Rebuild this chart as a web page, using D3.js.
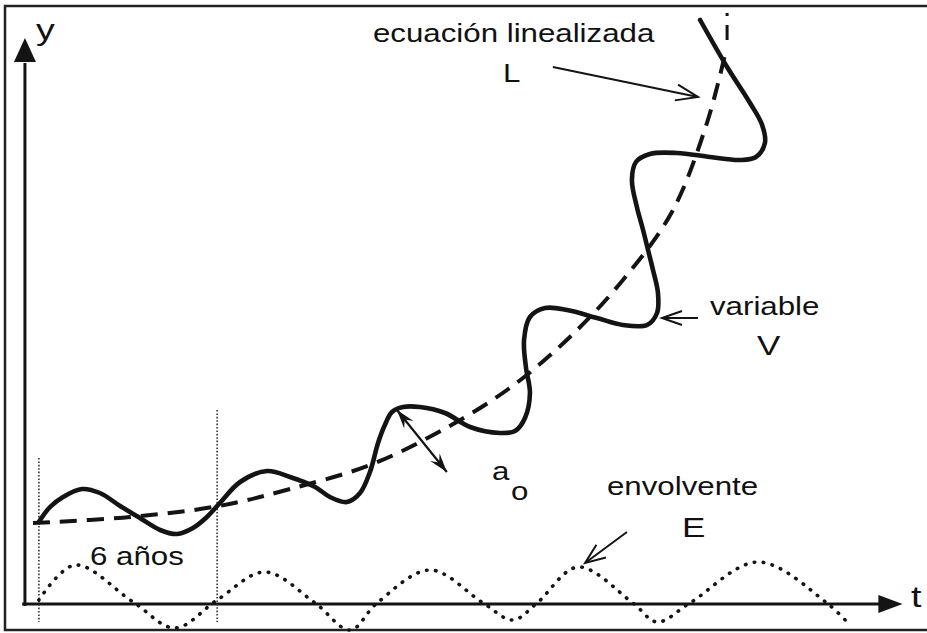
<!DOCTYPE html>
<html>
<head>
<meta charset="utf-8">
<script src="https://cdn.jsdelivr.net/npm/d3@7"></script>
<style>
  html, body { margin: 0; padding: 0; background: #fff; }
  svg { display: block; }
  text { font-family: "Liberation Sans", Arial, sans-serif; fill: #111; }
</style>
</head>
<body>
<svg id="chart" width="927" height="633"></svg>
<script>
// ---------------- DATA (t in years, y in arbitrary units) ----------------
// linearised equation L (dashed)
const lT = [0, 3.13, 6.0, 8.29, 10.87, 13.03, 15.29, 17.32, 19.03, 20.61, 21.74, 22.32];
const lY = [8.0, 8.6, 9.7, 11.4, 13.8, 17.0, 21.3, 26.6, 32.3, 39.1, 48.0, 54.8];

// variable V (solid, oscillating around L)
const vT = [0.19, 0.55, 0.97, 1.58, 2.16, 2.81, 3.45, 4.10, 4.65, 5.16, 5.61, 6.03, 6.68, 7.55, 8.29, 9.10,
            9.58, 10.13, 10.55, 10.87, 11.13, 11.35, 11.58, 11.94, 12.48, 13.29, 14.10, 15.06, 15.55, 15.87,
            16.03, 15.90, 15.84, 16.03, 16.52, 17.23, 18.19, 19.03, 19.81, 20.13, 20.16, 20.00, 19.84, 19.68,
            19.48, 19.32, 19.45, 19.90, 20.77, 21.84, 22.81, 23.32, 23.61, 23.52, 23.13, 22.39, 21.52];
const vY = [8.1, 9.6, 10.6, 11.4, 11.0, 9.7, 8.5, 7.3, 6.9, 7.5, 8.6, 10.0, 12.1, 13.2, 12.6, 11.6,
            10.6, 10.1, 11.0, 13.1, 16.0, 17.8, 19.1, 19.6, 19.6, 19.0, 17.6, 17.0, 17.2, 18.5,
            21.0, 23.6, 26.3, 28.6, 29.5, 29.3, 28.5, 27.8, 27.8, 29.0, 31.0, 33.3, 35.3, 37.3,
            39.6, 42.3, 44.1, 44.9, 45.0, 44.6, 44.3, 44.6, 46.0, 47.8, 50.0, 53.6, 58.3];

// envelope E (dotted, around the t axis)
const eT = [0.19, 1.35, 3.23, 4.58, 5.94, 7.48, 9.10, 10.23, 11.10, 12.81, 14.52, 15.48, 16.26, 17.58,
            19.35, 20.13, 21.19, 23.39, 25.61, 26.29];
const eY = [0.3, 3.8, 0.1, -2.5, 0.3, 3.1, 0.0, -2.7, 0.0, 3.3, 0.0, -1.7, 0.0, 3.6,
            0.0, -1.9, 0.0, 4.1, 0.0, -2.0];

// 6-year period markers and end of L
const periodMarks = [0.19, 5.94];
const lEndMark = 22.39;

// ---------------- LAYOUT ----------------
const svg = d3.select("#chart");
const x = d3.scaleLinear().domain([0, 30]).range([33, 963]);
const y = d3.scaleLinear().domain([0, 60]).range([603, 3]);
const ink = "#141414";

// frame
svg.append("rect").attr("x", 5).attr("y", 6).attr("width", 940).attr("height", 624)
  .attr("fill", "none").attr("stroke", "#222").attr("stroke-width", 2.5);

// axes
const x0 = x(-0.35), y0 = y(0);
const yAxisX = x(-0.26);
svg.append("line").attr("x1", x0).attr("x2", x(27.4)).attr("y1", y0 + 1).attr("y2", y0 + 1)
  .attr("stroke", ink).attr("stroke-width", 3);
svg.append("path")
  .attr("d", `M${x(27.4) - 4},${y0 + 1 - 9} L${x(28.05)},${y0 + 1} L${x(27.4) - 4},${y0 + 1 + 9} Z`)
  .attr("fill", ink);
svg.append("line").attr("x1", yAxisX).attr("x2", yAxisX).attr("y1", y0 + 3).attr("y2", y(54))
  .attr("stroke", ink).attr("stroke-width", 3);
svg.append("path")
  .attr("d", `M${yAxisX - 11},${y(54.1)} L${yAxisX},${y(56.5)} L${yAxisX + 11},${y(54.1)} Z`)
  .attr("fill", ink);

// vertical dotted period markers
periodMarks.forEach((t, i) => {
  svg.append("line").attr("x1", x(t)).attr("x2", x(t))
    .attr("y1", y(i === 0 ? 14.5 : 19.3)).attr("y2", y(-1.9))
    .attr("stroke", "#333").attr("stroke-width", 1.6).attr("stroke-dasharray", "1.6,1.8");
});
svg.append("line").attr("x1", x(lEndMark)).attr("x2", x(lEndMark)).attr("y1", y(59.0)).attr("y2", y(55.5))
  .attr("stroke", ink).attr("stroke-width", 3).attr("stroke-dasharray", "3,9,12,0");

// curves
const lData = lT.map((t, i) => [t, lY[i]]);
const vData = vT.map((t, i) => [t, vY[i]]);
const eData = eT.map((t, i) => [t, eY[i]]);

const lineGen = d3.line().x(d => x(d[0])).y(d => y(d[1]));

svg.append("path").datum(eData)
  .attr("d", lineGen.curve(d3.curveCatmullRom.alpha(0.5)))
  .attr("fill", "none").attr("stroke", ink).attr("stroke-width", 3.6)
  .attr("stroke-linecap", "round").attr("stroke-dasharray", "0.5,8.6");

svg.append("path").datum(lData)
  .attr("d", lineGen.curve(d3.curveCatmullRom.alpha(0.5)))
  .attr("fill", "none").attr("stroke", ink).attr("stroke-width", 4)
  .attr("stroke-dasharray", "17,10");

svg.append("path").datum(vData)
  .attr("d", lineGen.curve(d3.curveCatmullRom.alpha(0.5)))
  .attr("fill", "none").attr("stroke", ink).attr("stroke-width", 4.6)
  .attr("stroke-linejoin", "round").attr("stroke-linecap", "round");

// ---------------- ANNOTATIONS ----------------
function openArrow(from, to, len, half) {
  const x1 = x(from[0]), y1 = y(from[1]), x2 = x(to[0]), y2 = y(to[1]);
  const a = Math.atan2(y2 - y1, x2 - x1);
  svg.append("line").attr("x1", x1).attr("y1", y1).attr("x2", x2).attr("y2", y2)
    .attr("stroke", ink).attr("stroke-width", 2);
  const bx = x2 - len * Math.cos(a), by = y2 - len * Math.sin(a);
  const px = -Math.sin(a) * half, py = Math.cos(a) * half;
  svg.append("path")
    .attr("d", `M${bx + px},${by + py} L${x2},${y2} L${bx - px},${by - py}`)
    .attr("fill", "none").attr("stroke", ink).attr("stroke-width", 2);
}
function filledHead(from, to, len, half) {
  const x1 = x(from[0]), y1 = y(from[1]), x2 = x(to[0]), y2 = y(to[1]);
  const a = Math.atan2(y2 - y1, x2 - x1);
  const bx = x2 - len * Math.cos(a), by = y2 - len * Math.sin(a);
  const px = -Math.sin(a) * half, py = Math.cos(a) * half;
  svg.append("path")
    .attr("d", `M${bx + px},${by + py} L${x2},${y2} L${bx - px},${by - py} L${bx + 0.35 * len * Math.cos(a)},${by + 0.35 * len * Math.sin(a)} Z`)
    .attr("fill", ink);
}

openArrow([16.77, 53.6], [21.45, 50.6], 22, 8);   // L
openArrow([21.45, 28.5], [20.29, 28.5], 20, 7);   // V
openArrow([19.16, 7.1], [17.81, 4.0], 20, 8);     // E

// a0 double arrow
const aA = [11.74, 19.3], aB = [13.35, 13.1];
svg.append("line").attr("x1", x(aA[0])).attr("y1", y(aA[1])).attr("x2", x(aB[0])).attr("y2", y(aB[1]))
  .attr("stroke", ink).attr("stroke-width", 2.2);
filledHead(aB, aA, 19, 6);
filledHead(aA, aB, 19, 6);

// labels
const labels = [
  { text: "ecuación linealizada", px: 373, py: 42, size: 25 },
  { text: "L", px: 503, py: 82, size: 25 },
  { text: "variable", px: 710, py: 315, size: 25 },
  { text: "V", px: 757, py: 355, size: 28 },
  { text: "envolvente", px: 607, py: 495, size: 25 },
  { text: "E", px: 682, py: 537, size: 28 },
  { text: "6 años", px: 90, py: 565, size: 25 },
  { text: "a", px: 492, py: 480, size: 25 },
  { text: "o", px: 511, py: 500, size: 25 },
  { text: "y", px: 36, py: 40, size: 30 },
  { text: "t", px: 911, py: 607, size: 30 }
];
svg.selectAll("text.lab").data(labels).join("text")
  .attr("class", "lab")
  .attr("transform", d => `translate(${d.px},${d.py}) scale(1.25,1)`)
  .attr("font-size", d => d.size)
  .text(d => d.text);
</script>
</body>
</html>
